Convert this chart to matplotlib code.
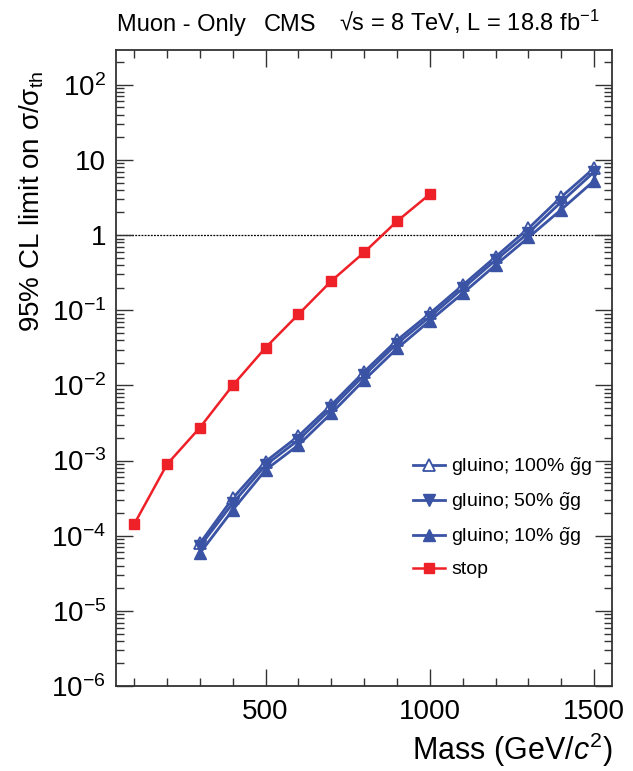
"""Muon-only 95% CL limit on sigma/sigma_th vs mass (CMS style)."""

import matplotlib
matplotlib.use("Agg")
import matplotlib.pyplot as plt
from matplotlib.ticker import FixedLocator, FixedFormatter, LogLocator, MultipleLocator, NullFormatter

plt.rcParams["font.family"] = ["Liberation Sans", "DejaVu Sans"]
plt.rcParams["mathtext.fontset"] = "custom"
plt.rcParams["mathtext.rm"] = "Liberation Sans"
plt.rcParams["mathtext.it"] = "Liberation Sans:italic"
plt.rcParams["mathtext.bf"] = "Liberation Sans:bold"

# data
stop_mass = [100, 200, 300, 400, 500, 600, 700, 800, 900, 1000]
stop_limit = [1.42e-4, 8.9e-4, 2.74e-3, 1.0e-2, 0.0318, 0.0883, 0.245, 0.589, 1.53, 3.51]

gluino_mass = [300, 400, 500, 600, 700, 800, 900, 1000, 1100, 1200, 1300, 1400, 1500]
gluino_100 = [7.9e-5, 3.15e-4, 9.7e-4, 2.12e-3, 5.5e-3, 0.0152, 0.040, 0.091, 0.216, 0.515, 1.23, 3.23, 7.8]
gluino_50 = [7.2e-5, 2.7e-4, 8.7e-4, 1.88e-3, 4.95e-3, 0.0137, 0.036, 0.082, 0.195, 0.465, 1.07, 2.77, 6.95]
gluino_10 = [5.85e-5, 2.2e-4, 7.5e-4, 1.61e-3, 4.25e-3, 0.0118, 0.031, 0.0726, 0.168, 0.40, 0.93, 2.19, 5.3]

ytick_values = [1e-6, 1e-5, 1e-4, 1e-3, 1e-2, 1e-1, 1, 10, 100]
ytick_labels = [r"$10^{-6}$", r"$10^{-5}$", r"$10^{-4}$", r"$10^{-3}$", r"$10^{-2}$",
                r"$10^{-1}$", "1", "10", r"$10^{2}$"]
xtick_values = [500, 1000, 1500]

BLUE = "#3a53a4"
RED = "#ee2028"

fig = plt.figure(figsize=(6.33, 7.71), dpi=100)
ax = fig.add_axes([0.1828, 0.1102, 0.7845, 0.8249])

ax.axhline(1.0, color="black", linestyle=(0, (1.5, 1.0)), linewidth=0.9, zorder=1)

ax.plot(gluino_mass, gluino_100, color=BLUE, linewidth=2.0, marker="^", markersize=8,
        markerfacecolor="white", markeredgecolor=BLUE, markeredgewidth=1.3,
        label=r"gluino; 100% $\tilde{\mathrm{g}}$g")
ax.plot(gluino_mass, gluino_50, color=BLUE, linewidth=2.0, marker="v", markersize=8,
        label=r"gluino; 50% $\tilde{\mathrm{g}}$g")
ax.plot(gluino_mass, gluino_10, color=BLUE, linewidth=2.0, marker="^", markersize=8,
        label=r"gluino; 10% $\tilde{\mathrm{g}}$g")
ax.plot(stop_mass, stop_limit, color=RED, linewidth=1.8, marker="s", markersize=7.5,
        label="stop")

ax.set_yscale("log")
ax.set_xlim(44, 1555)
ax.set_ylim(1e-6, 290)

ax.yaxis.set_major_locator(FixedLocator(ytick_values))
ax.yaxis.set_major_formatter(FixedFormatter(ytick_labels))
ax.yaxis.set_minor_locator(LogLocator(base=10, subs=range(2, 10), numticks=20))
ax.yaxis.set_minor_formatter(NullFormatter())
ax.xaxis.set_major_locator(FixedLocator(xtick_values))
ax.xaxis.set_minor_locator(MultipleLocator(100))

ax.tick_params(which="both", direction="in", top=True, right=True, width=1.0, color="#333333")
ax.tick_params(which="major", length=12.5, labelsize=20)
ax.tick_params(which="minor", length=6)
ax.tick_params(axis="x", which="major", pad=9)
ax.tick_params(axis="y", which="major", pad=7)
for spine in ax.spines.values():
    spine.set_linewidth(1.3)
    spine.set_color("#333333")

ax.set_xlabel(r"Mass (GeV/$c^{2}$)", fontsize=22, loc="right")
ax.xaxis.set_label_coords(1.0, -0.07)
ax.set_ylabel(r"95% CL limit on σ/σ$_{\mathrm{th}}$", fontsize=20, loc="top")
ax.yaxis.set_label_coords(-0.14, 0.968)

fig.text(117 / 633, 1 - 31 / 771, "Muon - Only", fontsize=17, va="baseline")
fig.text(264 / 633, 1 - 31 / 771, "CMS", fontsize=17, va="baseline")
fig.text(339 / 633, 1 - 31 / 771, r"√s = 8 TeV, L = 18.8 fb$^{-1}$", fontsize=17, va="baseline")

leg = ax.legend(loc="upper left", bbox_to_anchor=(413 / 633, 1 - 455 / 771),
                bbox_transform=fig.transFigure, frameon=False, fontsize=14,
                handlelength=1.65, handletextpad=0.3, labelspacing=0.65,
                borderpad=0, borderaxespad=0, numpoints=1)

fig.savefig("out.png", dpi=100)
